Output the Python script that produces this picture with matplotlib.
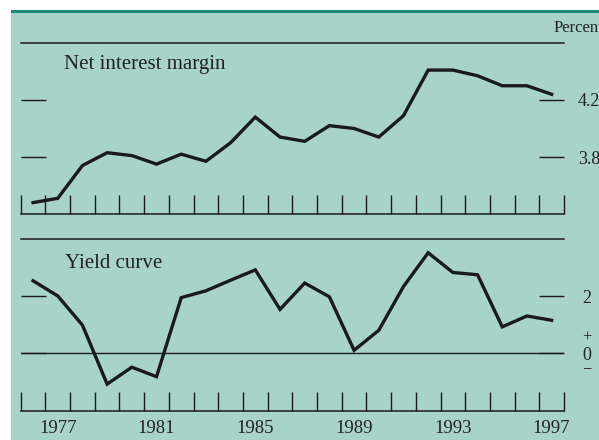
import numpy as np
import matplotlib.pyplot as plt
from matplotlib.patches import Rectangle
from matplotlib.transforms import blended_transform_factory, offset_copy

years = np.arange(1976, 1998)
net_interest_margin = [3.48, 3.51, 3.74, 3.83, 3.81, 3.75, 3.82, 3.77, 3.90, 4.08, 3.94,
                       3.91, 4.02, 4.00, 3.94, 4.09, 4.41, 4.41, 4.37, 4.30, 4.30, 4.24]
yield_curve = [2.54, 2.01, 0.99, -1.07, -0.48, -0.81, 1.95, 2.19, 2.56, 2.92, 1.54,
               2.46, 1.98, 0.11, 0.81, 2.34, 3.52, 2.83, 2.75, 0.93, 1.31, 1.16]
year_labels = [1977, 1981, 1985, 1989, 1993, 1997]

bg = '#a8d3c9'
serif = ['Liberation Serif', 'DejaVu Serif']
plt.rcParams['font.family'] = serif

fig = plt.figure(figsize=(5.99, 4.40), dpi=100)
fig.patch.set_facecolor('white')
# teal panel with darker rule on top
fig.add_artist(Rectangle((11/599, 0), 1 - 11/599, 1 - 10/440, transform=fig.transFigure,
                         facecolor=bg, edgecolor='none', zorder=0))
fig.add_artist(Rectangle((11/599, 1 - 13/440), 1 - 11/599, 3/440, transform=fig.transFigure,
                         facecolor='#1b8a74', edgecolor='none', zorder=0))

left = 20.7 / 599
width = (564 - 20.7) / 599
ax1 = fig.add_axes([left, 1 - 214/440, width, (214 - 43)/440])
ax2 = fig.add_axes([left, 1 - 410.7/440, width, (410.7 - 239)/440])

for ax in (ax1, ax2):
    ax.set_facecolor('none')
    ax.set_xlim(1975.5, 1997.5)
    for s in ('left', 'right'):
        ax.spines[s].set_visible(False)
    for s in ('top', 'bottom'):
        ax.spines[s].set_linewidth(1.1)
        ax.spines[s].set_color('#1a1a1a')
    ax.set_xticks(np.arange(1975.5, 1998.5, 1), minor=True)
    ax.tick_params(axis='x', which='minor', direction='in', length=14, width=1, color='#1a1a1a')
    ax.tick_params(axis='y', which='major', direction='in', length=18, width=1, color='#1a1a1a',
                   left=True, right=True, labelleft=False, labelright=True, pad=10,
                   labelsize=13, labelcolor='#222222')

# top panel
ax1.plot(years, net_interest_margin, color='#1a1a1a', lw=2.4, solid_joinstyle='miter', zorder=3)
ax1.set_ylim(3.4, 4.6)
ax1.set_yticks([3.8, 4.2])
ax1.set_yticklabels(['3.8', '4.2'])
ax1.set_xticks([])
ax1.text(64/599, 1 - 69/440, 'Net interest margin', transform=fig.transFigure,
         fontsize=15, color='#222222', va='baseline')

# bottom panel
ax2.axhline(0, color='#1a1a1a', lw=1, zorder=1)
ax2.plot(years, yield_curve, color='#1a1a1a', lw=2.4, solid_joinstyle='miter', zorder=3)
ax2.set_ylim(-2, 4)
ax2.set_yticks([0, 2])
ax2.set_yticklabels(['0', '2'])
ax2.tick_params(axis='y', pad=13)
ax2.set_xticks(year_labels)
ax2.set_xticklabels([str(y) for y in year_labels])
ax2.tick_params(axis='x', which='major', length=0, pad=7, labelsize=13.5, labelcolor='#222222')
ax2.text(65/599, 1 - 268/440, 'Yield curve', transform=fig.transFigure,
         fontsize=15, color='#222222', va='baseline')
tr = blended_transform_factory(ax2.transAxes, ax2.transData)
ax2.text(1.0, 0, '+', transform=offset_copy(tr, fig=fig, x=16.5, y=11.5, units='points'),
         fontsize=12, color='#222222', ha='center', va='center')
ax2.text(1.0, 0, '\u2212', transform=offset_copy(tr, fig=fig, x=16.5, y=-11.5, units='points'),
         fontsize=12, color='#222222', ha='center', va='center')

fig.text(554/599, 1 - 28/440, 'Percent', fontsize=12, color='#222222', va='center')

fig.savefig('out.png', dpi=100)
